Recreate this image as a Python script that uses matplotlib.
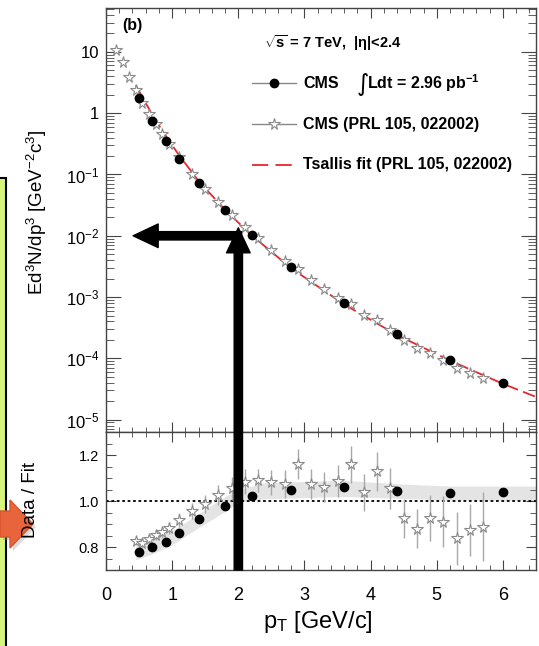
import matplotlib
matplotlib.use("Agg")
import math
import matplotlib.pyplot as plt
from matplotlib.patches import ConnectionPatch, Rectangle, Polygon
from matplotlib.ticker import FixedLocator, MultipleLocator, LogLocator, FuncFormatter, NullFormatter

plt.rcParams['font.family'] = ['Liberation Sans', 'DejaVu Sans']
plt.rcParams['mathtext.fontset'] = 'custom'
plt.rcParams['mathtext.rm'] = 'Liberation Sans'
plt.rcParams['mathtext.it'] = 'Liberation Sans:italic'
plt.rcParams['mathtext.bf'] = 'Liberation Sans:bold'

# new CMS measurement (black circles)
cms_pt = [0.5, 0.7, 0.9, 1.1, 1.4, 1.8, 2.2, 2.8, 3.6, 4.4, 5.2, 6.0]
cms_yield = [1.78, 0.75, 0.35, 0.18, 0.072, 0.026, 0.0104, 0.0031, 8.1e-4, 2.5e-4, 9.5e-5, 4.0e-5]
cms_ratio = [0.78, 0.80, 0.82, 0.86, 0.92, 0.98, 1.02, 1.05, 1.06, 1.045, 1.035, 1.04]

# CMS PRL 105, 022002 (open stars)
prl_pt = [0.15, 0.25, 0.35, 0.45, 0.55, 0.65, 0.75, 0.85, 0.95, 1.1, 1.3, 1.5, 1.7, 1.9, 2.1,
          2.3, 2.5, 2.7, 2.9, 3.1, 3.3, 3.5, 3.7, 3.9, 4.1, 4.3, 4.5, 4.7, 4.9, 5.1, 5.3, 5.5, 5.7]
prl_yield = [10.8, 6.9, 3.9, 2.36, 1.49, 0.979, 0.658, 0.451, 0.317, 0.192, 0.1038, 0.0588,
             0.0356, 0.02206, 0.01406, 0.009075, 0.00594, 0.0039, 0.002887, 0.001905, 0.001338,
             9.79e-4, 7.62e-4, 5.11e-4, 4.17e-4, 2.92e-4, 1.967e-4, 1.47e-4, 1.213e-4, 9.37e-5,
             6.87e-5, 5.79e-5, 4.76e-5]
ratio_pt = prl_pt[3:]
prl_ratio = [0.827, 0.817, 0.835, 0.852, 0.864, 0.883, 0.919, 0.958, 0.987, 1.026, 1.056, 1.084,
             1.091, 1.081, 1.074, 1.16, 1.074, 1.06, 1.088, 1.16, 1.038, 1.13, 1.055, 0.925,
             0.88, 0.925, 0.91, 0.838, 0.874, 0.888]
prl_ratio_err = [0.02, 0.02, 0.02, 0.02, 0.025, 0.025, 0.03, 0.035, 0.04, 0.045, 0.05, 0.055,
                 0.05, 0.055, 0.06, 0.065, 0.065, 0.065, 0.07, 0.08, 0.08, 0.085, 0.09, 0.085,
                 0.085, 0.1, 0.11, 0.115, 0.115, 0.15]

# Tsallis fit curve
fit_pt = [0.45, 0.5, 0.7, 0.9, 1.1, 1.4, 1.8, 2.2, 2.8, 3.6, 4.4, 5.2, 6.0, 6.5]
fit_yield = [2.85, 2.28, 0.94, 0.43, 0.209, 0.078, 0.0265, 0.0102, 0.00295, 7.6e-4, 2.4e-4,
             9.2e-5, 3.85e-5, 2.35e-5]

# systematic band on the ratio
band_pt = [0.45, 0.7, 1.0, 1.4, 1.8, 2.0, 2.4, 3.6, 4.4, 5.2, 6.5]
band_lo = [0.745, 0.77, 0.81, 0.885, 0.955, 0.995, 1.01, 1.02, 1.012, 1.005, 1.003]
band_hi = [0.805, 0.83, 0.87, 0.945, 1.02, 1.05, 1.08, 1.09, 1.075, 1.065, 1.065]

# annotation arrows (slide overlay)
arrow_pt = 2.0
arrow_tip = 0.0135
arrow_level = 1e-2
arrow_left = 0.41

red = '#e8262a'
frame = '#444444'

fig = plt.figure(figsize=(5.39, 6.46), dpi=100)
ax1 = fig.add_axes([0.1967, 0.3313, 0.7978, 0.6563])
ax2 = fig.add_axes([0.1967, 0.1176, 0.7978, 0.2136])

# ---- upper panel
ax1.plot(fit_pt, fit_yield, color=red, lw=1.3, dashes=(7, 3), zorder=2)
ax1.plot(prl_pt, prl_yield, ls='none', marker='*', ms=8.5, mfc='white', mec='#8a8a8a', mew=0.8, zorder=3)
ax1.plot(cms_pt, cms_yield, ls='none', marker='o', ms=6, color='black', zorder=4)
ax1.set_yscale('log')
ax1.set_xlim(0, 6.5)
ax1.set_ylim(6.3e-6, 52)

def logfmt(v, pos):
    if abs(v - 10) < 1e-9:
        return '10'
    if abs(v - 1) < 1e-9:
        return '1'
    return '$10^{%d}$' % int(round(math.log10(v)))

ax1.yaxis.set_major_locator(LogLocator(base=10, numticks=20))
ax1.yaxis.set_minor_locator(LogLocator(base=10, subs=range(2, 10), numticks=20))
ax1.yaxis.set_major_formatter(FuncFormatter(logfmt))
ax1.yaxis.set_minor_formatter(NullFormatter())
ax1.xaxis.set_major_locator(MultipleLocator(1))
ax1.xaxis.set_minor_locator(MultipleLocator(0.2))
ax1.tick_params(axis='both', which='both', direction='in', top=True, right=True,
                labelbottom=False, color=frame)
ax1.tick_params(axis='y', which='major', length=11, labelsize=12, pad=5)
ax1.tick_params(axis='y', which='minor', length=6)
ax1.tick_params(axis='x', which='major', length=7)
ax1.tick_params(axis='x', which='minor', length=3.5)

# legend, drawn by hand
ax1.text(0.037, 0.958, '(b)', transform=ax1.transAxes, fontsize=11.5, fontweight='bold', va='center')
ax1.text(0.368, 0.917, r'$\sqrt{\mathbf{s}}$ = 7 TeV,  |η|<2.4', transform=ax1.transAxes,
         fontsize=10.5, fontweight='bold', va='center')
ax1.plot([0.34, 0.442], [0.823, 0.823], color='#888888', lw=1, transform=ax1.transAxes)
ax1.plot([0.391], [0.823], marker='o', ms=6, color='black', transform=ax1.transAxes)
ax1.text(0.458, 0.823, 'CMS', transform=ax1.transAxes, fontsize=11.5, fontweight='bold', va='center')
ax1.text(0.583, 0.820, '∫', transform=ax1.transAxes, fontsize=17, va='center',
         family=['DejaVu Sans'])
ax1.text(0.608, 0.823, r'Ldt = 2.96 pb$^{\mathbf{-1}}$', transform=ax1.transAxes,
         fontsize=11.5, fontweight='bold', va='center')
ax1.plot([0.34, 0.442], [0.726, 0.726], color='#888888', lw=1, transform=ax1.transAxes)
ax1.plot([0.391], [0.726], marker='*', ms=8.5, mfc='white', mec='#8a8a8a', mew=0.8, transform=ax1.transAxes)
ax1.text(0.458, 0.726, 'CMS (PRL 105, 022002)', transform=ax1.transAxes, fontsize=11.5,
         fontweight='bold', va='center')
ax1.plot([0.34, 0.442], [0.630, 0.630], color=red, lw=1.3, dashes=(9, 4), transform=ax1.transAxes)
ax1.text(0.458, 0.630, 'Tsallis fit (PRL 105, 022002)', transform=ax1.transAxes, fontsize=11.5,
         fontweight='bold', va='center')

# ---- lower panel
ax2.fill_between(band_pt, band_lo, band_hi, color='#e4e4e4', lw=0, zorder=1)
ax2.axhline(1.0, color='black', lw=1.3, ls=(0, (1.5, 1.5)), zorder=2)
ax2.errorbar(ratio_pt, prl_ratio, yerr=prl_ratio_err, fmt='*', ms=8.5, mfc='white', mec='#8a8a8a',
             mew=0.8, ecolor='#a8a8a8', elinewidth=1, capsize=0, zorder=3)
ax2.plot(cms_pt, cms_ratio, ls='none', marker='o', ms=6, color='black', zorder=4)
ax2.set_xlim(0, 6.5)
ax2.set_ylim(0.7, 1.3)
ax2.yaxis.set_major_locator(FixedLocator([0.8, 1.0, 1.2]))
ax2.yaxis.set_minor_locator(MultipleLocator(0.05))
ax2.yaxis.set_major_formatter(FuncFormatter(lambda v, p: '%.1f' % v))
ax2.xaxis.set_major_locator(MultipleLocator(1))
ax2.xaxis.set_minor_locator(MultipleLocator(0.2))
ax2.tick_params(axis='both', which='both', direction='in', top=True, right=True, color=frame)
ax2.tick_params(axis='y', which='major', length=7, labelsize=10.5, pad=5)
ax2.tick_params(axis='y', which='minor', length=4)
ax2.tick_params(axis='x', which='major', length=7, labelsize=13, pad=12)
ax2.tick_params(axis='x', which='minor', length=3.5)

for ax in (ax1, ax2):
    for s in ax.spines.values():
        s.set_color(frame)
        s.set_linewidth(1)

fig.text(0.0686, 0.672, r'Ed$^3$N/dp$^3$ [GeV$^{-2}$c$^3$]', rotation=90, fontsize=13.5,
         ha='center', va='center', zorder=5)
fig.text(0.0575, 0.226, 'Data / Fit', rotation=90, fontsize=13.5, ha='center', va='center', zorder=5)
fig.text(0.59, 0.037, r'p$_{\mathrm{T}}$ [GeV/c]', fontsize=17, ha='center', va='center')

# ---- slide overlay: green box on the left and orange arrow
fig.add_artist(Rectangle((-0.02, -0.02), 0.0311, 0.7445, transform=fig.transFigure,
                         facecolor='#d5f67a', edgecolor='black', lw=1.5, zorder=1))
px = [0, 10, 10, 33, 10, 10, 0]
py = [511, 511, 500, 524, 548, 537, 537]
shadow = [((x + 3) / 539, (646 - y - 3) / 646) for x, y in zip(px, py)]
fig.add_artist(Polygon(shadow, closed=True, transform=fig.transFigure, facecolor='#999999',
                       alpha=0.35, lw=0, zorder=2))
pts = [(x / 539, (646 - y) / 646) for x, y in zip(px, py)]
fig.add_artist(Polygon(pts, closed=True, transform=fig.transFigure, facecolor='#e8653c',
                       edgecolor='#d4552e', lw=1, zorder=3))

# ---- black arrows
style = 'simple,head_length=1.8,head_width=1.7,tail_width=0.6'
vline = ConnectionPatch(xyA=(arrow_pt, 0.7), coordsA=ax2.transData,
                        xyB=(arrow_pt, arrow_tip), coordsB=ax1.transData,
                        arrowstyle=style, mutation_scale=10, color='black',
                        shrinkA=0, shrinkB=0, zorder=10)
fig.add_artist(vline)
hline = ConnectionPatch(xyA=(arrow_pt + 0.05, arrow_level), coordsA=ax1.transData,
                        xyB=(arrow_left, arrow_level), coordsB=ax1.transData,
                        arrowstyle=style, mutation_scale=10, color='black',
                        shrinkA=0, shrinkB=0, zorder=10)
fig.add_artist(hline)

fig.savefig('out.png', dpi=100)
